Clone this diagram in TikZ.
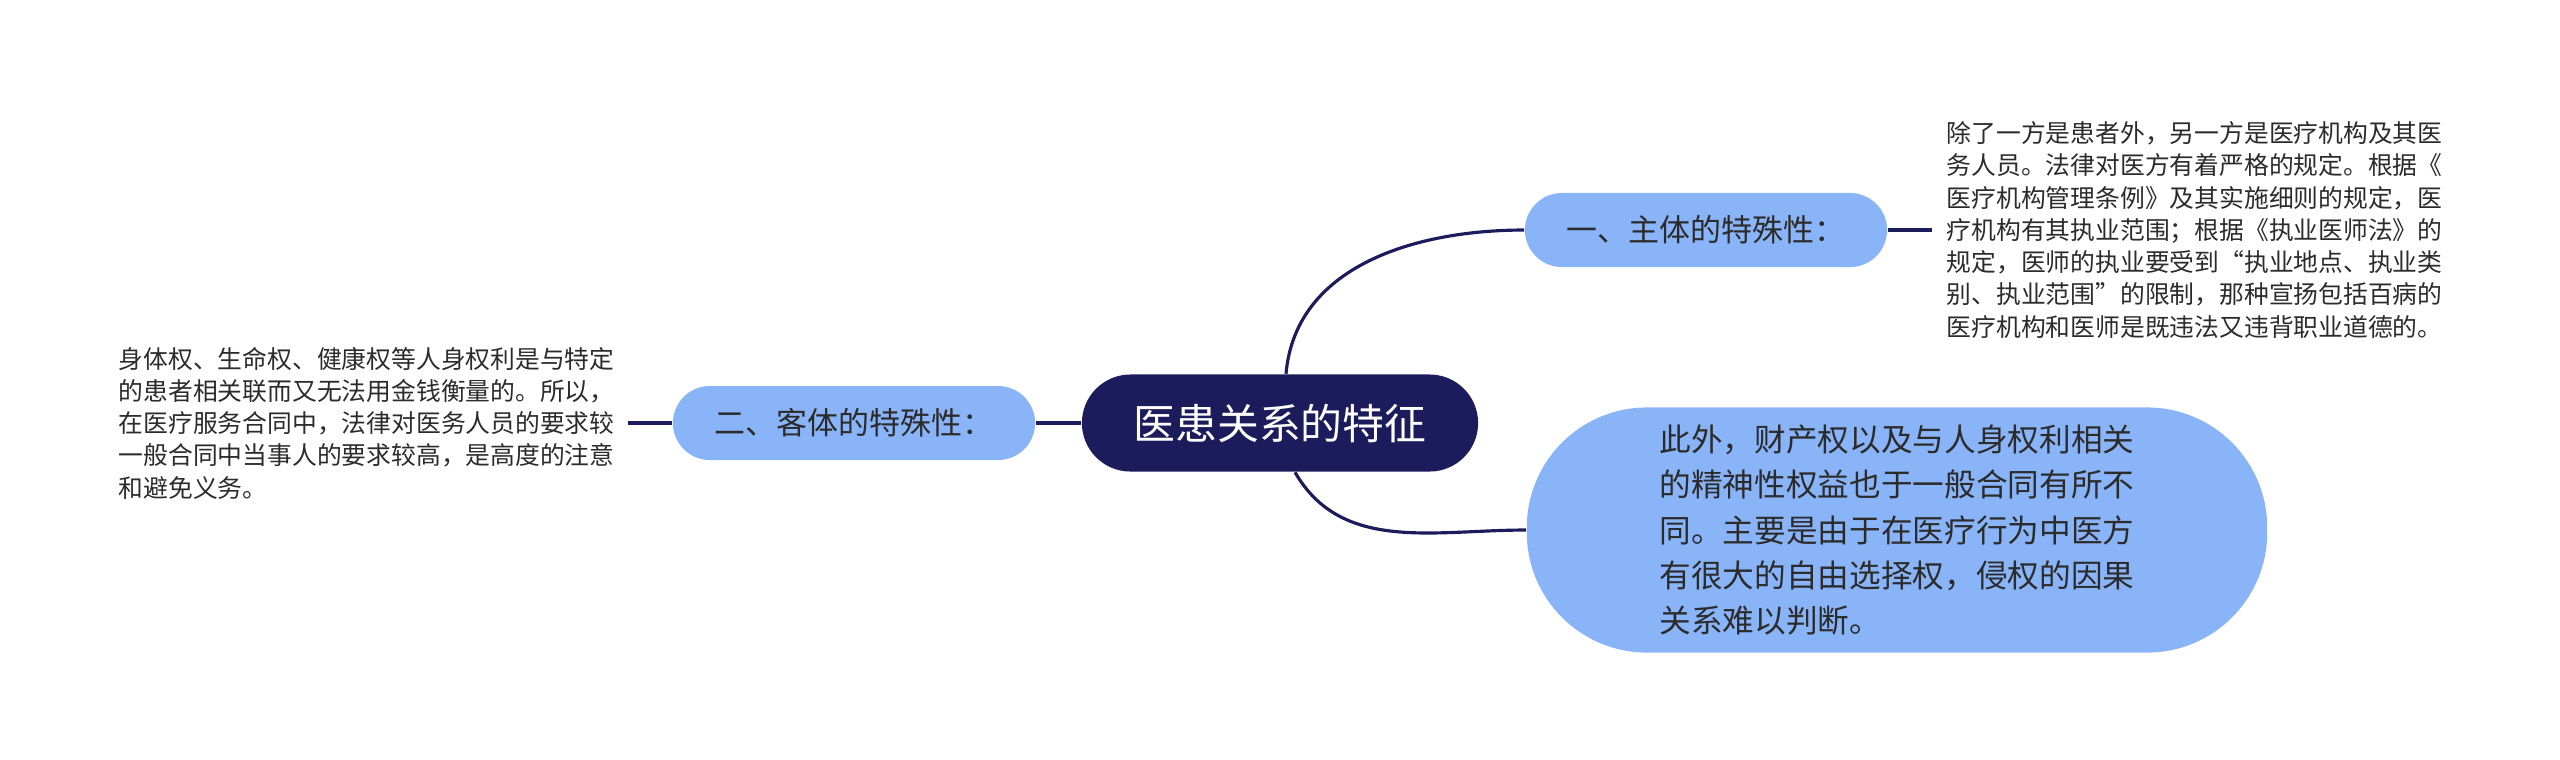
\documentclass[tikz,border=0pt]{standalone}
\usepackage{fontspec}
\newfontfamily\cjk{Noto Sans CJK SC}
\definecolor{navy}{HTML}{1C1B5C}
\definecolor{sky}{HTML}{8AB4F8}
\definecolor{ink}{HTML}{2B2B2B}

\begin{document}
\begin{tikzpicture}[x=0.01cm, y=-0.01cm,
    link/.style={draw=navy, line width=0.9pt},
    topic/.style={fill=sky, text=ink, rounded corners=0.37cm, minimum width=3.62cm,
        minimum height=0.74cm, inner sep=0pt, font=\cjk\fontsize{8.8pt}{10pt}\selectfont},
    note/.style={text=ink, align=left, inner sep=0pt, font=\cjk\fontsize{7.05pt}{9.17pt}\selectfont}]
    \useasboundingbox (0,0) rectangle (2560,759);

    % Central topic
    \node[fill=navy, text=white, rounded corners=0.485cm, minimum width=3.96cm, minimum height=0.97cm,
        inner sep=0pt, font=\cjk\fontsize{11.9pt}{14pt}\selectfont] (root) at (1280,423) {医患关系的特征};

    % Branches
    \node[topic] (subj) at (1706,230) {一、主体的特殊性：};
    \node[topic] (obj) at (854,423) {二、客体的特殊性：};
    \node[fill=sky, text=ink, rounded corners=1.2cm, minimum width=7.4cm, minimum height=2.45cm,
        align=left, inner sep=0pt, font=\cjk\fontsize{9pt}{12.8pt}\selectfont] (extra) at (1897,530)
        {此外，财产权以及与人身权利相关\\的精神性权益也于一般合同有所不\\同。主要是由于在医疗行为中医方\\有很大的自由选择权，侵权的因果\\关系难以判断。\hspace*{0.2cm}};

    % Detail notes
    \node[note, anchor=west] (subjtxt) at (1946,230)
        {除了一方是患者外，另一方是医疗机构及其医\\务人员。法律对医方有着严格的规定。根据《\\医疗机构管理条例》及其实施细则的规定，医\\疗机构有其执业范围；根据《执业医师法》的\\规定，医师的执业要受到“执业地点、执业类\\别、执业范围”的限制，那种宣扬包括百病的\\医疗机构和医师是既违法又违背职业道德的。};
    \node[note, anchor=west] (objtxt) at (118,423)
        {身体权、生命权、健康权等人身权利是与特定\\的患者相关联而又无法用金钱衡量的。所以，\\在医疗服务合同中，法律对医务人员的要求较\\一般合同中当事人的要求较高，是高度的注意\\和避免义务。};

    % Connectors
    \draw[link] ([xshift=0.06cm]root.north) to[out=85, in=180] (subj.west);
    \draw[link] ([xshift=0.15cm]root.south) to[out=-60, in=180] (extra.west);
    \draw[link] (root.west) -- (obj.east);
    \draw[link, shorten >=0.14cm] (subj.east) -- (subjtxt.west);
    \draw[link, shorten >=0.13cm] (obj.west) -- (objtxt.east);
\end{tikzpicture}
\end{document}
